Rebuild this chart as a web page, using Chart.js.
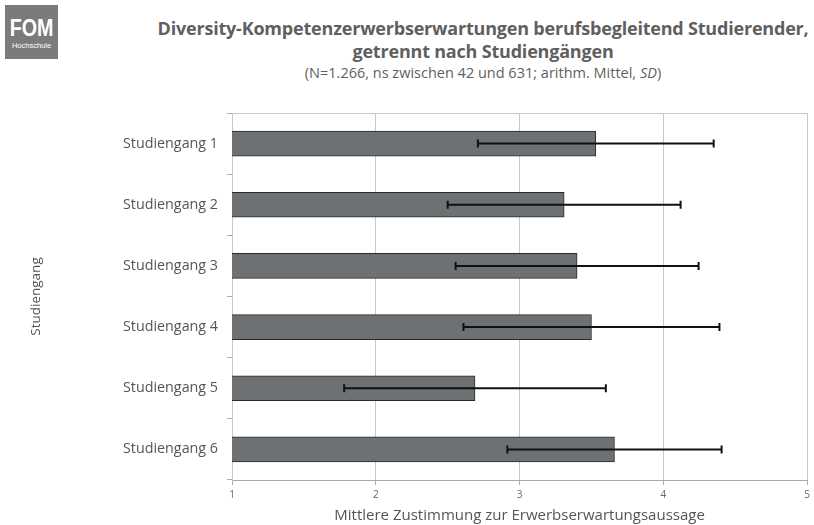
<!DOCTYPE html>
<html>
<head>
<meta charset="utf-8">
<script src="https://cdn.jsdelivr.net/npm/chart.js@4/dist/chart.umd.min.js"></script>
<style>
  body { margin: 0; background: #fff; font-family: "Open Sans", sans-serif; }
  #wrap { position: relative; width: 814px; height: 525px; }
  #logo { position: absolute; left: 5px; top: 5px; width: 53px; height: 54px; background: #7b7b7b; color: #fff; text-align: center; overflow: hidden; }
  #logo .big { font: bold 24px "Liberation Sans", sans-serif; margin-top: 10px; line-height: 26px; transform: scaleX(0.82); }
  #logo .small { font: 7.5px "Liberation Sans", sans-serif; line-height: 10px; }
  #title { position: absolute; left: 150px; width: 666px; top: 17px; text-align: center; color: #5f5f5f; }
  #title .t { font-weight: bold; font-size: 18px; line-height: 23px; letter-spacing: -0.2px; }
  #title .s { font-size: 14.5px; line-height: 20px; }
  canvas { position: absolute; left: 0; top: 0; }
</style>
</head>
<body>
<div id="wrap">
  <div id="logo"><div class="big">FOM</div><div class="small">Hochschule</div></div>
  <div id="title">
    <div class="t">Diversity-Kompetenzerwerbserwartungen berufsbegleitend Studierender,<br>getrennt nach Studiengängen</div>
    <div class="s">(N=1.266, ns zwischen 42 und 631; arithm. Mittel, <i>SD</i>)</div>
  </div>
  <canvas id="barChart" width="814" height="525"></canvas>
</div>
<script>
var categories = ["Studiengang 1", "Studiengang 2", "Studiengang 3", "Studiengang 4", "Studiengang 5", "Studiengang 6"];
var means = [3.53, 3.31, 3.40, 3.50, 2.69, 3.66];
var sds = [0.82, 0.81, 0.845, 0.89, 0.91, 0.745];
var xTicks = [1, 2, 3, 4, 5];

// draws the SD whiskers and the top frame line
var errorBars = {
    id: 'errorBars',
    afterDatasetsDraw: function (chart) {
        var ctx = chart.ctx;
        var xs = chart.scales.x, ys = chart.scales.y;
        var area = chart.chartArea;
        ctx.save();
        ctx.strokeStyle = '#c8c8c8';
        ctx.lineWidth = 1;
        ctx.beginPath();
        ctx.moveTo(area.left, area.top + 0.5);
        ctx.lineTo(area.right, area.top + 0.5);
        ctx.stroke();

        ctx.strokeStyle = '#111';
        ctx.lineWidth = 2;
        for (var i = 0; i < means.length; i++) {
            var y = ys.getPixelForValue(i);
            var x1 = xs.getPixelForValue(means[i] - sds[i]);
            var x2 = xs.getPixelForValue(means[i] + sds[i]);
            ctx.beginPath();
            ctx.moveTo(x1, y); ctx.lineTo(x2, y);
            ctx.moveTo(x1, y - 4); ctx.lineTo(x1, y + 4);
            ctx.moveTo(x2, y - 4); ctx.lineTo(x2, y + 4);
            ctx.stroke();
        }
        ctx.restore();
    }
};

var ctx = document.getElementById("barChart").getContext("2d");
new Chart(ctx, {
    type: 'bar',
    data: {
        labels: categories,
        datasets: [{
            label: "Mittelwert",
            data: means,
            backgroundColor: '#6e7173',
            borderColor: '#2a2a2a',
            borderWidth: 1,
            borderSkipped: false,
            barThickness: 25
        }]
    },
    options: {
        indexAxis: 'y',
        responsive: false,
        animation: false,
        layout: { padding: { left: 24, right: 6, top: 113, bottom: 0 } },
        plugins: { legend: { display: false }, tooltip: { enabled: false } },
        scales: {
            x: {
                min: 1, max: 5,
                afterBuildTicks: function (s) { s.ticks = xTicks.map(function (v) { return { value: v }; }); },
                grid: { color: '#c8c8c8', tickLength: 5, tickColor: '#aaa' },
                border: { color: '#aaa' },
                ticks: { color: '#666', font: { family: 'Open Sans', size: 10 }, padding: 4 },
                title: { display: true, text: 'Mittlere Zustimmung zur Erwerbserwartungsaussage', color: '#555', font: { family: 'Open Sans', size: 15 }, padding: { top: 2, bottom: 0 } }
            },
            y: {
                afterFit: function (s) { s.width = 208; },
                grid: { offset: true, drawOnChartArea: false, tickLength: 5, color: '#aaa' },
                border: { color: '#c8c8c8' },
                ticks: { color: '#555', font: { family: 'Open Sans', size: 14.3 }, padding: 9 },
                title: { display: true, text: 'Studiengang', color: '#555', font: { family: 'Open Sans', size: 13.5 }, padding: { top: 4, bottom: 0 } }
            }
        }
    },
    plugins: [errorBars]
});
</script>
</body>
</html>
